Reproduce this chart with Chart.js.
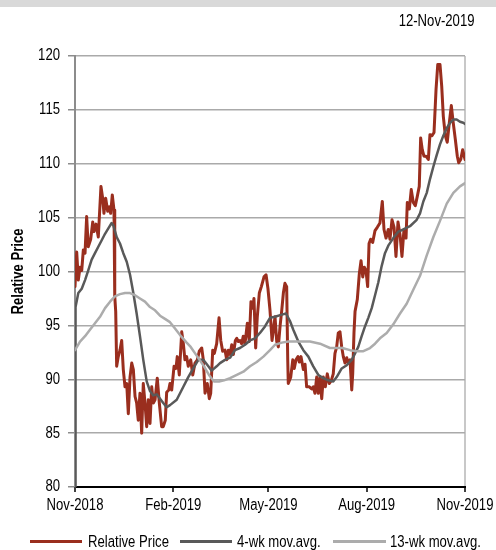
<!DOCTYPE html>
<html><head><meta charset="utf-8">
<script src="https://cdn.jsdelivr.net/npm/chart.js@4.4.0/dist/chart.umd.min.js"></script>
<style>
html,body{margin:0;padding:0;background:#fff;overflow:hidden;}
#wrap{position:relative;width:496px;height:550px;}
#bar{position:absolute;left:0;top:0;width:496px;height:7px;background:#d9d9d9;}
.txt{position:absolute;font-family:'Liberation Sans',Arial,sans-serif;font-size:16px;line-height:16px;color:#000;white-space:nowrap;transform:scaleX(0.82);transform-origin:0 50%;}
#date{right:22px;top:13px;transform-origin:100% 50%;}
.lgline{position:absolute;height:3px;}
canvas{position:absolute;left:0;top:0;}
</style>
</head><body>
<div id="wrap">
<canvas id="c" width="496" height="550"></canvas>
<div id="bar"></div>
<div id="date" class="txt"></div>
<div id="legend"></div>
</div>
<script>
const dateLabel = '12-Nov-2019';
const seriesNames = ['Relative Price', '4-wk mov.avg.', '13-wk mov.avg.'];
const seriesColors = ['#9a2e1e', '#595959', '#acacac'];
const xTickDays = [0, 92, 181, 273, 365];
const xTickLabels = ['Nov-2018', 'Feb-2019', 'May-2019', 'Aug-2019', 'Nov-2019'];
const yMin = 80, yMax = 120, yStep = 5;

const priceDays = [0,1.6,3.1,4.7,6.3,7.8,9.4,10.9,12.4,14.7,16.6,17.8,19.7,21.8,24.3,25.9,27.1,28.7,30.6,32.1,33.4,34.9,36.5,37.2,38.1,39.0,40.5,42.1,43.7,45.2,46.8,48.4,49.9,51.5,53.1,54.6,56.2,57.7,59.2,60.8,62.4,63.9,65.5,67.1,68.6,70.2,71.8,73.3,74.9,77.0,78.9,81.1,82.6,84.5,85.8,87.7,88.9,90.5,92.7,94.5,95.7,97.6,99.9,101.4,102.9,104.5,106.0,108.3,110.2,112.3,114.5,116.3,118.6,120.1,121.7,123.8,125.7,127.0,128.9,130.4,132.6,134.8,136.4,138.2,140.4,142.0,143.5,145.1,146.7,148.2,150.1,151.4,152.9,154.4,156.0,157.5,159.1,161.3,163.1,164.7,166.3,167.5,169.1,170.6,172.5,174.4,176.9,178.8,180.6,182.5,184.4,185.6,187.2,188.8,190.3,191.9,193.5,195.0,196.5,198.1,199.1,199.6,201.9,203.8,205.2,206.8,208.7,209.9,211.5,213.7,215.3,216.8,219.3,221.5,223.0,224.6,226.2,227.7,229.3,230.9,232.4,234.3,236.1,238.0,239.9,241.7,243.3,244.9,246.4,248.0,249.6,251.1,252.7,254.3,255.8,257.4,259.0,259.9,261.1,262.1,264.2,266.1,267.7,269.3,270.8,272.3,273.9,275.2,276.7,278.6,280.8,282.9,285.4,287.6,289.2,291.1,293.2,294.8,296.7,298.6,300.4,302.3,304.2,306.0,307.9,309.8,311.0,312.9,314.7,316.6,318.5,320.4,322.2,323.5,325.0,326.6,328.5,330.7,332.2,334.1,336.0,337.9,339.5,341.6,343.2,344.7,346.6,348.4,350.3,352.2,354.0,355.9,357.8,359.1,361.0,362.8,365.0];
const priceValues = [98.6,101.8,99.2,100.4,100.1,102.0,101.7,105.1,102.3,103.0,104.6,103.7,104.4,103.2,107.9,106.8,105.4,106.8,105.6,106.0,105.4,107.1,105.7,97.7,96.3,91.2,92.1,92.7,93.6,90.9,89.3,89.6,86.8,90.2,91.5,90.9,88.4,87.8,86.2,88.7,85.0,89.6,87.8,85.6,88.1,85.9,89.3,87.8,88.1,90.1,87.8,85.6,85.6,86.2,88.8,89.0,89.6,89.0,91.2,91.0,92.1,90.4,94.4,93.3,91.8,92.1,91.2,91.8,90.4,91.5,91.8,92.6,92.9,91.8,88.7,89.6,88.2,88.7,92.7,92.4,93.3,95.7,93.6,92.6,92.7,91.8,92.7,92.3,93.2,92.3,93.6,93.8,93.5,93.6,93.3,94.0,93.3,95.2,93.5,97.2,96.6,97.5,92.9,95.8,98.0,98.6,99.5,99.7,98.4,96.4,93.6,94.5,95.8,93.5,93.0,94.9,96.4,98.0,98.9,98.6,91.8,89.6,90.2,91.8,91.0,91.8,92.1,91.6,92.1,90.9,91.4,89.3,89.3,89.1,89.3,88.7,90.2,88.7,90.2,88.2,90.2,89.3,90.5,89.6,89.9,90.5,92.4,93.0,94.3,94.4,93.0,92.1,91.5,92.0,91.5,91.8,89.0,90.5,94.3,96.3,97.4,99.8,101.0,99.5,100.4,100.1,98.6,102.6,103.0,102.7,103.8,104.1,104.5,106.5,103.9,103.1,103.9,103.0,104.8,104.1,101.4,104.6,103.4,101.4,103.9,103.1,106.4,105.8,107.6,106.4,106.1,107.0,107.9,112.4,111.3,110.7,110.7,110.4,112.7,112.6,112.9,116.9,119.2,119.2,117.2,114.4,112.6,112.0,113.8,115.4,113.8,112.3,110.7,110.1,110.4,111.3,110.4];

const ma4Days = [0,0.5,3.1,6.3,9.4,12.4,15.6,18.7,21.8,25.0,28.1,31.2,34.3,35.8,39.0,42.1,45.2,48.4,51.5,54.6,57.7,60.8,63.9,67.1,70.2,73.3,76.5,79.6,82.6,85.8,88.9,95.2,101.4,106.0,110.7,115.4,120.1,124.8,127.9,132.6,135.7,140.4,145.1,149.7,154.4,159.1,163.8,168.5,173.1,177.8,182.5,187.2,193.5,197.5,201.2,204.3,209.0,213.7,218.4,223.0,227.7,232.4,237.1,241.7,244.9,249.6,254.3,259.0,262.1,265.1,268.3,271.4,274.5,277.7,280.8,283.9,287.0,290.1,293.2,297.9,302.6,307.3,313.5,319.8,322.9,326.0,329.2,332.3,335.3,338.5,341.6,344.7,347.9,351.0,354.1,357.2,360.3,363.4,365.0];
const ma4Values = [80.0,96.7,98.0,98.4,99.2,100.1,101.1,101.7,102.3,102.9,103.5,104.0,104.5,104.3,103.2,102.6,101.7,100.9,99.7,98.0,96.1,94.0,91.8,89.8,88.9,88.5,88.6,88.2,87.8,87.4,87.6,88.1,89.3,90.2,91.0,91.8,91.8,91.2,90.8,91.2,91.5,91.8,92.0,92.7,92.9,93.2,93.6,93.8,94.3,94.9,95.7,95.8,96.0,96.1,95.4,94.6,93.5,92.7,92.1,91.2,90.4,90.1,89.9,89.8,90.2,91.0,91.3,91.8,92.4,93.0,94.0,94.9,95.7,96.6,97.8,99.0,100.5,101.7,102.4,103.1,103.7,103.9,104.2,104.8,105.4,106.5,107.3,108.6,109.7,110.8,111.8,112.6,113.3,113.8,114.1,114.1,113.9,113.8,113.7];

const ma13Days = [0,4.7,9.4,14.0,18.7,23.4,28.1,32.8,37.4,42.1,46.8,51.5,56.2,60.8,65.5,70.2,74.9,79.6,84.2,88.9,93.6,98.3,104.5,108.3,114.5,120.7,125.4,130.1,134.8,139.5,145.1,151.4,157.6,163.8,170.1,176.3,182.5,187.2,193.5,199.7,210.6,219.9,229.3,238.6,250.2,257.4,263.6,269.9,276.1,280.8,285.4,291.7,297.9,304.2,310.4,316.6,322.9,329.2,335.4,341.6,347.9,354.1,360.3,365.0];
const ma13Values = [92.7,93.5,94.0,94.6,95.2,95.8,96.6,97.2,97.7,97.9,98.0,98.0,97.8,97.5,97.2,96.7,96.4,95.9,95.6,95.3,94.7,94.1,93.4,93.0,92.1,91.2,90.4,89.8,89.8,89.9,90.1,90.4,90.7,91.2,91.6,92.1,92.7,93.2,93.4,93.5,93.5,93.5,93.3,92.9,92.9,92.7,92.6,92.6,92.9,93.3,93.8,94.3,95.1,96.1,97.0,98.3,99.6,101.5,103.2,104.7,106.3,107.3,107.9,108.2];

const FONT = "'Liberation Sans', Arial, sans-serif";
const NARROW = 0.82; // the source uses a condensed face; emulate it
const toXY = (xs, ys) => xs.map((x, i) => ({x: x, y: ys[i]}));

document.getElementById('date').textContent = dateLabel;

// HTML legend
const legendSpec = [
  {line: 30, text: 88, w: 52},
  {line: 180, text: 237, w: 52},
  {line: 333, text: 390, w: 53}
];
const lg = document.getElementById('legend');
seriesNames.forEach((name, i) => {
  const l = document.createElement('div');
  l.className = 'lgline';
  l.style.left = legendSpec[i].line + 'px';
  l.style.width = legendSpec[i].w + 'px';
  l.style.top = '540px';
  l.style.background = seriesColors[i];
  lg.appendChild(l);
  const t = document.createElement('div');
  t.className = 'txt';
  t.style.left = legendSpec[i].text + 'px';
  t.style.top = '534px';
  t.textContent = name;
  lg.appendChild(t);
});

// condensed text on the chart canvas (still real text via fillText)
const canvas = document.getElementById('c');
const c2d = canvas.getContext('2d');
const _fill = c2d.fillText;
c2d.fillText = function(text, x, y, maxWidth) {
  this.save();
  this.translate(x, y);
  this.scale(NARROW, 1);
  if (maxWidth !== undefined) _fill.call(this, text, 0, 0, maxWidth / NARROW);
  else _fill.call(this, text, 0, 0);
  this.restore();
};
const _measure = c2d.measureText;
c2d.measureText = function(text) {
  const m = _measure.call(this, text);
  return {
    width: m.width * NARROW,
    actualBoundingBoxAscent: m.actualBoundingBoxAscent,
    actualBoundingBoxDescent: m.actualBoundingBoxDescent,
    actualBoundingBoxLeft: m.actualBoundingBoxLeft * NARROW,
    actualBoundingBoxRight: m.actualBoundingBoxRight * NARROW
  };
};

new Chart(canvas, {
  type: 'line',
  data: {
    datasets: [
      {label: seriesNames[0], data: toXY(priceDays, priceValues), borderColor: seriesColors[0], borderWidth: 3, order: 3},
      {label: seriesNames[1], data: toXY(ma4Days, ma4Values), borderColor: seriesColors[1], borderWidth: 2.5, order: 2},
      {label: seriesNames[2], data: toXY(ma13Days, ma13Values), borderColor: seriesColors[2], borderWidth: 2.5, order: 1}
    ]
  },
  options: {
    responsive: false,
    animation: false,
    devicePixelRatio: 1,
    elements: {
      point: {radius: 0},
      line: {tension: 0, borderJoinStyle: 'round', borderCapStyle: 'round', fill: false}
    },
    layout: {padding: {left: 0, right: 31, top: 56, bottom: 0}},
    plugins: {legend: {display: false}, tooltip: {enabled: false}, title: {display: false}},
    scales: {
      x: {
        type: 'linear',
        min: xTickDays[0],
        max: xTickDays[xTickDays.length - 1],
        afterBuildTicks: s => { s.ticks = xTickDays.map(v => ({value: v})); },
        afterFit: s => { s.height = 63; s.paddingLeft = 0; s.paddingRight = 0; },
        ticks: {
          autoSkip: false, maxRotation: 0, padding: 4, color: '#000',
          font: {family: FONT, size: 16},
          callback: v => { const k = xTickDays.indexOf(v); return k >= 0 ? xTickLabels[k] : ''; }
        },
        grid: {
          drawOnChartArea: true, drawTicks: true, tickLength: 5, tickColor: '#000', tickWidth: 1.5,
          lineWidth: 2,
          color: c => (c.index === xTickDays.length - 1 ? '#c8c8c8' : 'rgba(0,0,0,0)')
        },
        border: {display: true, color: '#000', width: 2}
      },
      y: {
        min: yMin, max: yMax,
        afterFit: s => { s.width = 75; s.paddingTop = 0; s.paddingBottom = 0; },
        ticks: {stepSize: yStep, padding: 8, color: '#000', font: {family: FONT, size: 16}},
        grid: {
          lineWidth: 1.5, tickLength: 7, tickColor: '#8c8c8c', tickWidth: 1.5,
          color: c => (c.tick && c.tick.value === yMin ? 'rgba(0,0,0,0)' : '#aaaaaa')
        },
        border: {display: true, color: '#8c8c8c', width: 2},
        title: {
          display: true, text: seriesNames[0], color: '#000',
          font: {family: FONT, size: 16, weight: 'bold'},
          padding: {top: 9, bottom: 0}
        }
      }
    }
  }
});
</script>
</body></html>
